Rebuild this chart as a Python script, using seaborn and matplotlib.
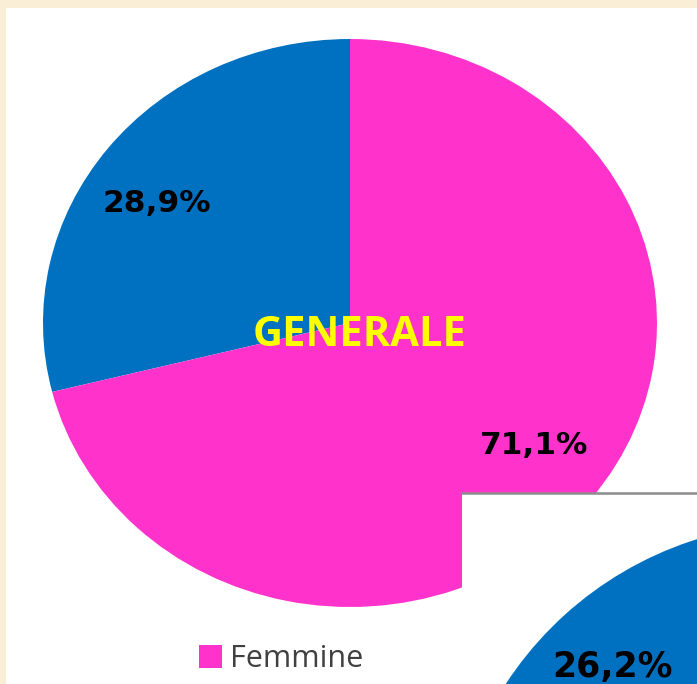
import matplotlib
matplotlib.use("Agg")
import matplotlib.pyplot as plt
import seaborn as sns

# dati
labels = ["Maschi", "Femmine"]
generale = [28.9, 71.1]
secondo = [26.2, 73.8]   # solo la fetta blu si vede
colors = ["#0070C0", "#FF33CC"]
title = "GENERALE"

sns.set_theme(style="white")
plt.rcParams["font.family"] = ["DejaVu Sans"]

W, H = 697, 684
fig = plt.figure(figsize=(W / 100, H / 100), dpi=100)
fig.patch.set_facecolor("#FBEED6")


def pct(p):
    return f"{p:.1f}%".replace(".", ",")


# pannello bianco
bg = fig.add_axes([6 / W, 0, (W - 6) / W, (H - 8) / H])
bg.set_facecolor("white")
bg.set_xticks([])
bg.set_yticks([])
for s in bg.spines.values():
    s.set_visible(False)

# torta principale (leggermente schiacciata in verticale)
ax = fig.add_axes([43 / W, (H - 607) / H, 614 / W, 568 / H])
wedges, texts, autotexts = ax.pie(
    generale,
    colors=colors,
    startangle=90,
    autopct=pct,
    pctdistance=0.75,
    wedgeprops=dict(linewidth=0),
    textprops=dict(fontsize=22.5, fontweight="bold", color="black"),
)
ax.set_aspect("auto")
ax.set_xlim(-1, 1)
ax.set_ylim(-1, 1)
ax.axis("off")

# etichette un po' ruotate come in Excel
autotexts[0].set_position((-0.63, 0.42))
autotexts[1].set_position((0.60, -0.43))

ax.text(0.03, -0.045, title, ha="center", va="center", color="#FFFF00",
        fontsize=30, fontweight="bold", family=["Open Sans", "DejaVu Sans"])

leg = fig.legend(
    [wedges[1]], [labels[1]],
    loc="upper left",
    bbox_to_anchor=(199 / W, 1 - 644 / H),
    frameon=False,
    borderpad=0,
    borderaxespad=0,
    handlelength=0.75,
    handleheight=0.75,
    handletextpad=0.28,
    prop=dict(family=["Open Sans", "DejaVu Sans"], size=22),
)
for t in leg.get_texts():
    t.set_color("#404040")

# secondo grafico sovrapposto in basso a destra
ax2 = fig.add_axes([462 / W, 0, 235 / W, 191 / H])
ax2.set_facecolor("white")
ax2.set_xticks([])
ax2.set_yticks([])
for k, s in ax2.spines.items():
    s.set_visible(k == "top")
ax2.spines["top"].set_color("#8C8C8C")
ax2.spines["top"].set_linewidth(1.8)

ax3 = fig.add_axes([448 / W, -549 / H, 710 / W, 710 / H])
ax3.pie(
    secondo,
    colors=colors,
    startangle=85,
    autopct=pct,
    pctdistance=0.8,
    wedgeprops=dict(linewidth=0),
    textprops=dict(fontsize=25, fontweight="bold", color="black"),
)
ax3.set_aspect("auto")
ax3.set_xlim(-1, 1)
ax3.set_ylim(-1, 1)
ax3.axis("off")

fig.savefig("out.png", dpi=100)
